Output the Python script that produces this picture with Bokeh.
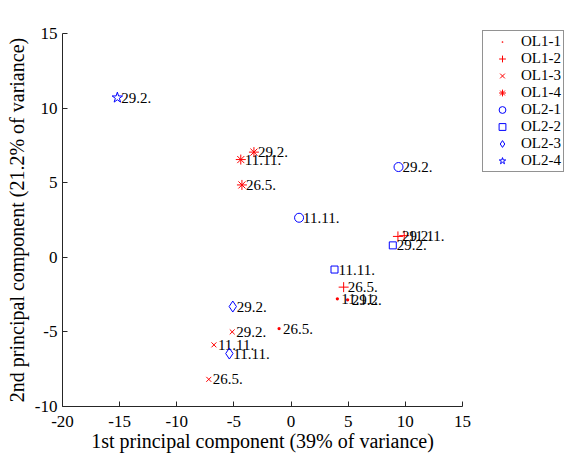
from bokeh.plotting import figure
from bokeh.models import ColumnDataSource, Legend, LegendItem, FixedTicker, CustomJSTickFormatter
from bokeh.core.properties import value
from bokeh.embed import file_html
from bokeh.resources import INLINE

# data: (x, y, label) per series
series_names = ["OL1-1", "OL1-2", "OL1-3", "OL1-4", "OL2-1", "OL2-2", "OL2-3", "OL2-4"]
ol1_1_x = [-1.05, 4.05, 4.95]
ol1_1_y = [-4.78, -2.78, -2.85]
ol1_1_t = ["26.5.", "11.11.", "29.2."]
ol1_2_x = [4.6, 9.35, 9.9]
ol1_2_y = [-2.0, 1.4, 1.45]
ol1_2_t = ["26.5.", "29.2.", "11.11."]
ol1_3_x = [-5.15, -6.75, -7.2]
ol1_3_y = [-5.0, -5.87, -8.18]
ol1_3_t = ["29.2.", "11.11.", "26.5."]
ol1_4_x = [-3.25, -4.4, -4.3]
ol1_4_y = [7.05, 6.55, 4.85]
ol1_4_t = ["29.2.", "11.11.", "26.5."]
ol2_1_x = [0.7, 9.4]
ol2_1_y = [2.65, 6.05]
ol2_1_t = ["11.11.", "29.2."]
ol2_2_x = [3.8, 8.9]
ol2_2_y = [-0.82, 0.8]
ol2_2_t = ["11.11.", "29.2."]
ol2_3_x = [-5.1, -5.4]
ol2_3_y = [-3.3, -6.45]
ol2_3_t = ["29.2.", "11.11."]
ol2_4_x = [-15.2]
ol2_4_y = [10.7]
ol2_4_t = ["29.2."]

x_ticks = [-20, -15, -10, -5, 0, 5, 10, 15]
y_ticks = [-10, -5, 0, 5, 10, 15]

xs = [ol1_1_x, ol1_2_x, ol1_3_x, ol1_4_x, ol2_1_x, ol2_2_x, ol2_3_x, ol2_4_x]
ys = [ol1_1_y, ol1_2_y, ol1_3_y, ol1_4_y, ol2_1_y, ol2_2_y, ol2_3_y, ol2_4_y]
ts = [ol1_1_t, ol1_2_t, ol1_3_t, ol1_4_t, ol2_1_t, ol2_2_t, ol2_3_t, ol2_4_t]

markers = ["dot", "cross", "x", "asterisk", "circle", "square", "diamond", "star"]
sizes = [13, 10, 7, 10, 9, 7, 11, 11]
colors = ["#ff0000"] * 4 + ["#0000ff"] * 4

FONT = "Liberation Serif"

p = figure(x_range=(-20, 15), y_range=(-10, 15),
           output_backend="svg", toolbar_location=None,
           min_border_left=62, min_border_top=33, min_border_bottom=49, min_border_right=104,
           frame_width=400, frame_height=373)
p.outline_line_color = None
p.xgrid.visible = False
p.ygrid.visible = False
p.background_fill_color = "white"
p.border_fill_color = "white"

fmt = CustomJSTickFormatter(code="return tick.toString();")
for ax in (p.xaxis[0], p.yaxis[0]):
    ax.major_tick_in = 5
    ax.major_tick_out = 0
    ax.minor_tick_line_color = None
    ax.axis_line_color = "#262626"
    ax.major_tick_line_color = "#262626"
    ax.major_label_text_font = FONT
    ax.major_label_text_font_size = "17px"
    ax.major_label_text_color = "black"
    ax.axis_label_text_font = FONT
    ax.axis_label_text_font_size = "20px"
    ax.axis_label_text_font_style = "normal"
    ax.axis_label_text_color = "black"
    ax.formatter = fmt

p.xaxis[0].ticker = FixedTicker(ticks=x_ticks)
p.yaxis[0].ticker = FixedTicker(ticks=y_ticks)
p.xaxis[0].axis_label = "1st principal component (39% of variance)"
p.yaxis[0].axis_label = "2nd principal component (21.2% of variance)"
p.xaxis[0].major_label_standoff = 9
p.xaxis[0].axis_label_standoff = 0
p.yaxis[0].major_label_standoff = 5
p.yaxis[0].axis_label_standoff = 4

items = []
for name, x, y, t, m, s, c in zip(series_names, xs, ys, ts, markers, sizes, colors):
    src = ColumnDataSource(dict(x=x, y=y, t=t))
    if m == "dot":
        r = p.scatter("x", "y", source=src, marker="dot", size=s, fill_color=c, line_color=c)
    else:
        r = p.scatter("x", "y", source=src, marker=m, size=s, fill_color=None, line_color=c, line_width=1)
    p.text("x", "y", text="t", source=src, x_offset=4, text_baseline="middle", text_align="left",
           text_font=value(FONT), text_font_size="15px", text_color="black")
    items.append(LegendItem(label=name, renderers=[r]))

legend = Legend(items=items, location=(20, 234), margin=0, padding=2, spacing=0,
                glyph_width=34, glyph_height=17, label_height=17, label_standoff=2,
                label_text_font=FONT, label_text_font_size="15px", label_text_color="black",
                border_line_color="#262626", border_line_width=1, background_fill_color="white",
                background_fill_alpha=1)
p.add_layout(legend, "right")

open("out.html", "w").write(file_html(p, INLINE))
